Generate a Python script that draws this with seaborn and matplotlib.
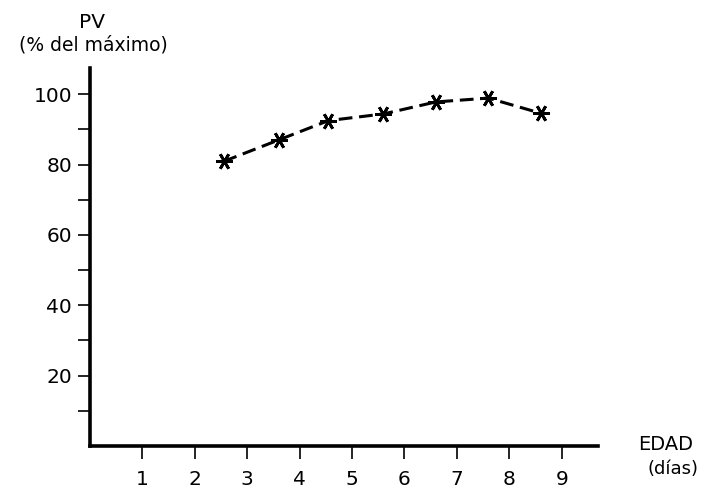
import matplotlib
matplotlib.use("Agg")
import matplotlib.pyplot as plt
import seaborn as sns
import pandas as pd

edad = [2.55, 3.6, 4.55, 5.6, 6.6, 7.6, 8.6]
pv = [80.9, 87.0, 92.5, 94.4, 97.8, 98.9, 94.6]
x_ticks = [1, 2, 3, 4, 5, 6, 7, 8, 9]
y_major = [20, 40, 60, 80, 100]
y_minor = [10, 30, 50, 70, 90]

sns.set_style("ticks")
plt.rcParams['font.family'] = ['DejaVu Sans']
plt.rcParams['text.color'] = 'black'

df = pd.DataFrame({"edad": edad, "pv": pv})

fig = plt.figure(figsize=(7.06, 4.88), dpi=100)
ax = fig.add_axes([0.1275, 0.086, 0.72, 0.775])

sns.lineplot(data=df, x="edad", y="pv", ax=ax, color="black",
             linewidth=2.2, dashes=False, linestyle=(0, (4.5, 2.2)),
             marker=(6, 2, 90), markersize=12, markeredgewidth=2.0,
             markeredgecolor="black")

ax.set_xlim(0, 9.7)
ax.set_ylim(0, 107.5)
ax.set_xticks(x_ticks)
ax.set_yticks(y_major)
ax.set_yticks(y_minor, minor=True)
ax.set_xlabel("")
ax.set_ylabel("")

sns.despine(ax=ax)
for s in ["left", "bottom"]:
    ax.spines[s].set_linewidth(2.6)
    ax.spines[s].set_color("black")

ax.tick_params(axis="both", which="both", direction="out", length=9,
               width=1.2, color="black", labelsize=14.5, labelcolor="black")
ax.tick_params(axis="x", pad=8.5)
ax.tick_params(axis="y", pad=4)

fig.text(92 / 706, 1 - 22 / 488, "PV", ha="center", va="center", fontsize=14.5, color="black")
fig.text(93 / 706, 1 - 45 / 488, "(% del máximo)", ha="center", va="center", fontsize=13.5, color="black")
fig.text(666 / 706, 1 - 445 / 488, "EDAD", ha="center", va="center", fontsize=14, color="black")
fig.text(673 / 706, 1 - 469 / 488, "(días)", ha="center", va="center", fontsize=13, color="black")

fig.savefig("out.png", dpi=100)
